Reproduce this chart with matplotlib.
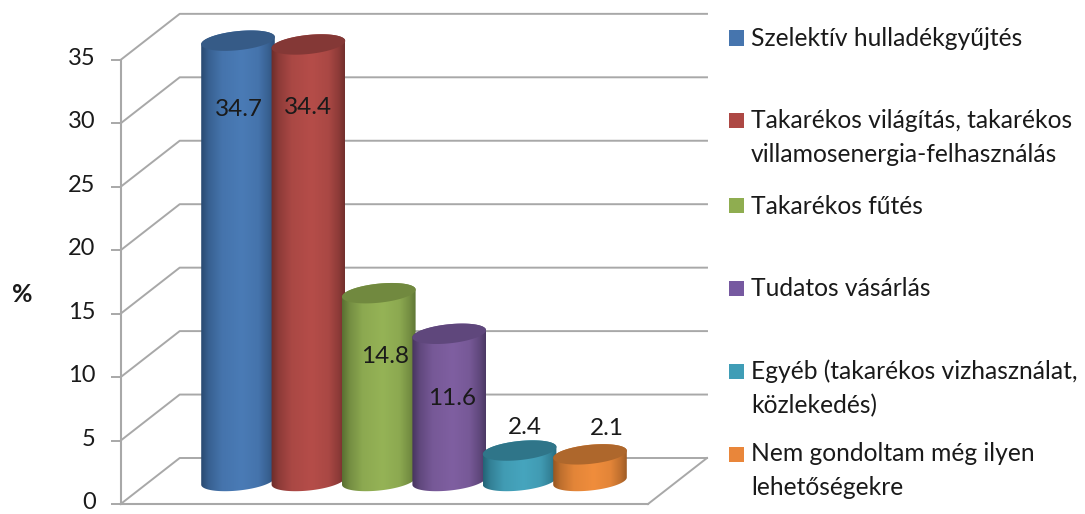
import matplotlib.pyplot as plt
import numpy as np
from matplotlib.colors import to_rgb
from matplotlib.patches import Polygon, Rectangle
from matplotlib.transforms import ScaledTranslation

# Values
categories = [
    "Szelektív hulladékgyűjtés",
    "Takarékos világítás, takarékos\nvillamosenergia-felhasználás",
    "Takarékos fűtés",
    "Tudatos vásárlás",
    "Egyéb (takarékos vizhasználat,\nközlekedés)",
    "Nem gondoltam még ilyen\nlehetőségekre",
]
values = [34.7, 34.4, 14.8, 11.6, 2.4, 2.1]
y_ticks = [0, 5, 10, 15, 20, 25, 30, 35]

# Cylinder shading: edge, centre, top cap
edge_colors = ["#294a72", "#6c2c2a", "#5a7032", "#47355f", "#246477", "#975723"]
mid_colors = ["#4a7bb6", "#b54d49", "#95b356", "#7f5fa1", "#46a5be", "#f08d3c"]
top_colors = ["#365b87", "#843836", "#71893f", "#5f477c", "#2f7589", "#ae672c"]
legend_colors = ["#4675ae", "#ad4844", "#8fad50", "#7659a0", "#3f9db6", "#e9863a"]

# Layout in pixels
W, H = 1085, 514
FONT = "Lato"
GRID = "#a8a8a8"
X_UNIT = 70.4  # px per category
Y_UNIT = 12.69  # px per percent
LEFT, RIGHT, BOTTOM = 120.7, 648, 504
DEPTH_X, DEPTH_Y = 59 / X_UNIT, 46 / Y_UNIT
BASE_Y = 23 / Y_UNIT
RX, RY, TILT = 37.0, 9.5, np.radians(6)

# Label offsets from the cylinder centre (categories) and top (percent)
label_dx = [0.02, -0.01, 0.09, 0.04, 0.07, 0.24]
label_dy = [-5.4, -5.0, -5.0, -5.1, 1.85, 2.0]
legend_y = [38, 120, 205, 288, 371, 454]
legend_text_y = [38, 137.5, 206, 289, 388, 470.5]


def ellipse_xy(cx, cy, t):
    """Tilted ellipse outline, in data units around (cx, cy)."""
    ex, ey = RX * np.cos(t), RY * np.sin(t)
    px = ex * np.cos(TILT) - ey * np.sin(TILT)
    py = ex * np.sin(TILT) + ey * np.cos(TILT)
    return np.column_stack((cx + px / X_UNIT, cy + py / Y_UNIT))


def draw_cylinder(ax, i, value):
    base, top = BASE_Y, BASE_Y + value
    lower = ellipse_xy(i, base, np.linspace(np.pi, 2 * np.pi, 60))
    upper = ellipse_xy(i, top, np.linspace(0, np.pi, 60))
    body = Polygon(np.vstack((lower, upper)), closed=True, fc="none", ec="none", zorder=3 + i)
    ax.add_patch(body)

    # Horizontal gradient clipped to the body
    pos = np.linspace(0, 1, 80)
    edge, mid = np.array(to_rgb(edge_colors[i])), np.array(to_rgb(mid_colors[i]))
    shade = np.interp(pos, [0, 0.1, 0.28, 0.55, 0.78, 0.92, 1], [0, 0.45, 0.85, 1, 0.85, 0.45, 0.1])
    grad = edge + (mid - edge) * shade[:, None]
    half = RX / X_UNIT
    im = ax.imshow(
        grad[None, :, :],
        extent=(i - half, i + half, base - 2, top + 2),
        aspect="auto",
        interpolation="bilinear",
        zorder=3 + i,
    )
    im.set_clip_path(body)

    cap = ellipse_xy(i, top, np.linspace(0, 2 * np.pi, 120))
    ax.add_patch(Polygon(cap, closed=True, fc=top_colors[i], ec="none", zorder=3 + i))


fig = plt.figure(figsize=(W / 100, H / 100), dpi=100)
# Axes reach above the 35 tick so the tallest caps are not clipped
y_lim = (0, 39)
ax = fig.add_axes([LEFT / W, 1 - BOTTOM / H, (RIGHT - LEFT) / W, y_lim[1] * Y_UNIT / H])
x_start = -(238 - LEFT) / X_UNIT
x_lim = (x_start, x_start + (RIGHT - LEFT) / X_UNIT)

# Walls and floor of the 3D box
x_left, x_right = x_lim
for tick in y_ticks:
    ax.plot(
        [x_left, x_left + DEPTH_X, x_right + DEPTH_X],
        [tick, tick + DEPTH_Y, tick + DEPTH_Y],
        color=GRID, lw=1.4, clip_on=False, zorder=1,
    )
ax.plot([x_right, x_right + DEPTH_X], [0, DEPTH_Y], color=GRID, lw=1.4, clip_on=False, zorder=1)

for i, value in enumerate(values):
    draw_cylinder(ax, i, value)
    ax.text(
        i + label_dx[i], BASE_Y + value + label_dy[i], f"{value:.1f}",
        ha="center", va="center", fontsize=17.5, family=FONT, color="#1a1a1a", zorder=20,
    )

ax.set_xlim(x_lim)
ax.set_ylim(y_lim)
ax.set_xticks([])
ax.set_yticks(y_ticks)
ax.patch.set_alpha(0)
for side in ["top", "right"]:
    ax.spines[side].set_visible(False)
for side in ["left", "bottom"]:
    ax.spines[side].set_color(GRID)
    ax.spines[side].set_linewidth(1.5)
ax.spines["left"].set_bounds(0, 35)
ax.tick_params(axis="y", length=7, width=1.4, color=GRID, pad=11, labelsize=17, labelcolor="#1a1a1a")
# Small lift keeps the 0 label inside the picture
lift = ScaledTranslation(0, 1.5 / 100, fig.dpi_scale_trans)
for label in ax.get_yticklabels():
    label.set_fontfamily(FONT)
    label.set_verticalalignment("center")
    label.set_transform(label.get_transform() + lift)

fig.text(22 / W, 1 - 294 / H, "%", ha="center", va="center", fontsize=18, fontweight="bold", family=FONT, color="#1a1a1a")

# Legend by hand, so that swatches and wrapped lines sit as in the original
for i, name in enumerate(categories):
    fig.add_artist(Rectangle((729 / W, 1 - (legend_y[i] + 7.5) / H), 15 / W, 15 / H,
                             transform=fig.transFigure, fc=legend_colors[i], ec="none"))
    fig.text(751 / W, 1 - legend_text_y[i] / H, name, ha="left", va="center", fontsize=17.7,
             family=FONT, color="#1a1a1a", linespacing=1.58)

fig.savefig("out.png", dpi=100)
